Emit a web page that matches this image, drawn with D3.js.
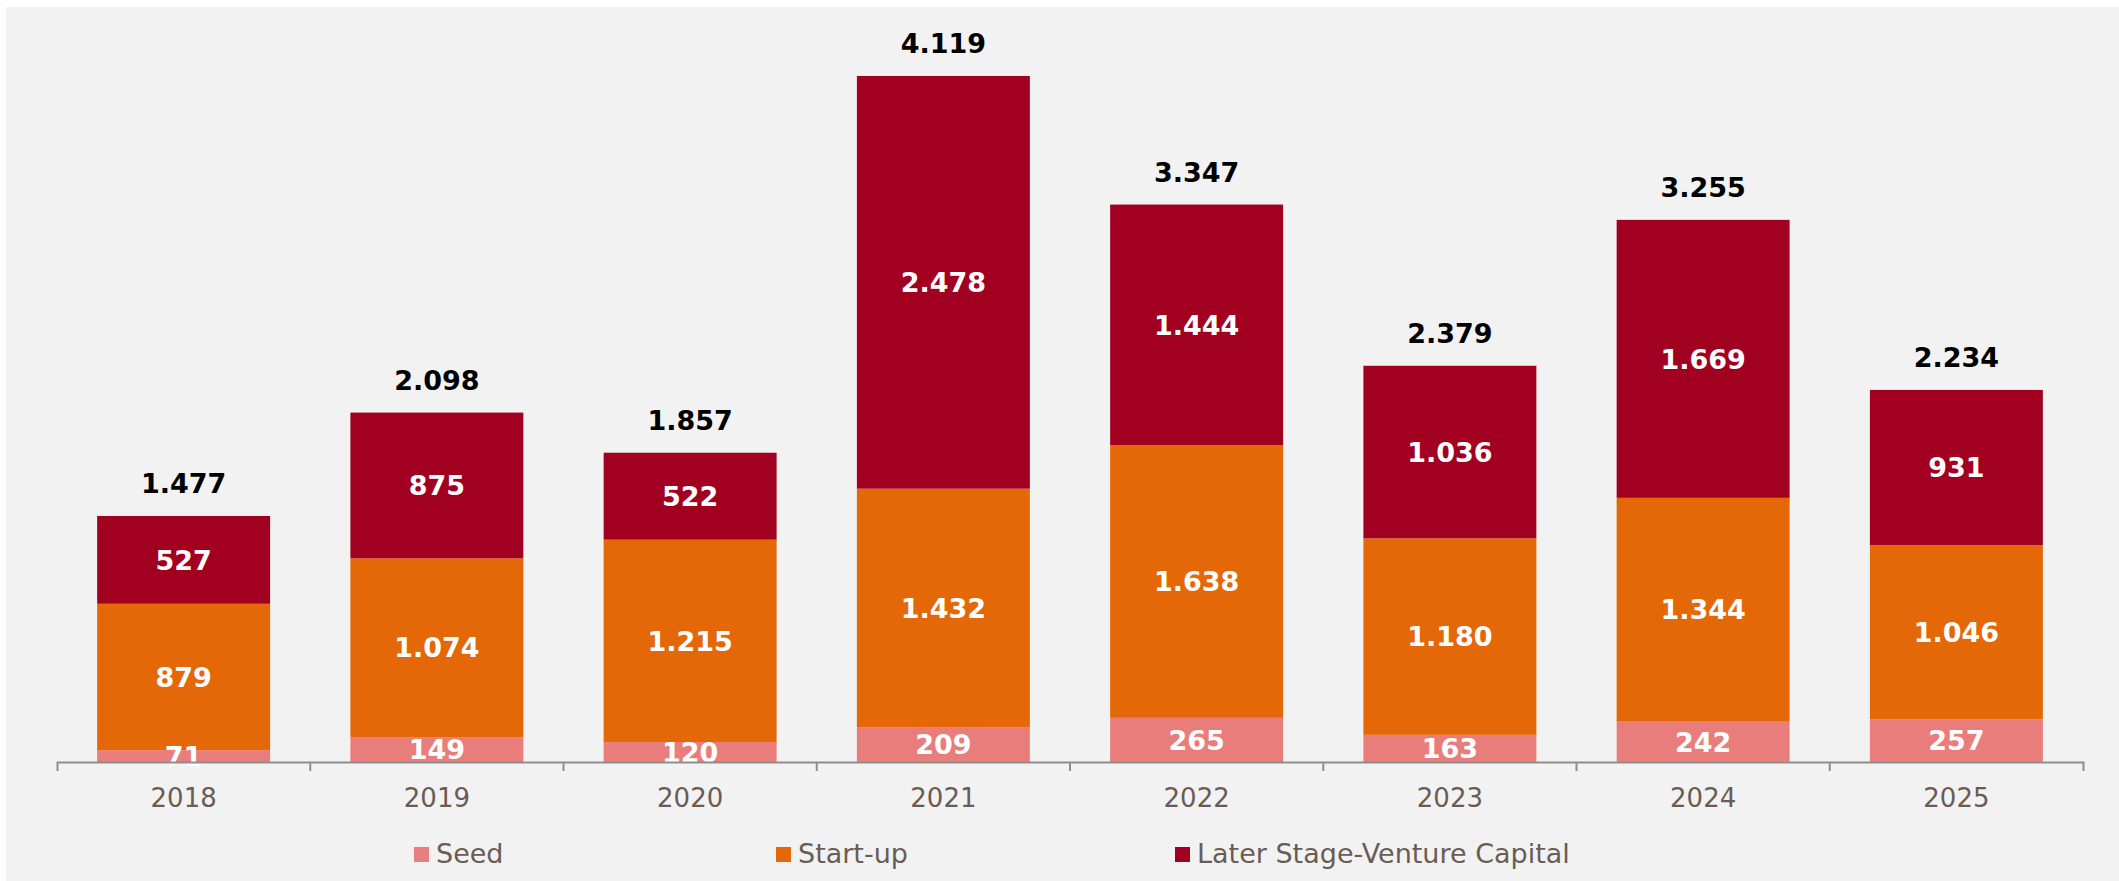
<!DOCTYPE html>
<html>
<head>
<meta charset="utf-8">
<script src="https://cdn.jsdelivr.net/npm/d3@7"></script>
<style>
  html, body { margin: 0; padding: 0; background: #ffffff; }
  svg { display: block; }
</style>
</head>
<body>
<svg id="chart" width="2119" height="881"></svg>
<script>
// Investment volume by stage, per year
const years = ["2018", "2019", "2020", "2021", "2022", "2023", "2024", "2025"];
const seed = [71, 149, 120, 209, 265, 163, 242, 257];
const startUp = [879, 1074, 1215, 1432, 1638, 1180, 1344, 1046];
const laterStage = [527, 875, 522, 2478, 1444, 1036, 1669, 931];
const seriesNames = ["Seed", "Start-up", "Later Stage-Venture Capital"];
const seriesColors = ["#e97d7b", "#e46808", "#a20021"];

const rows = years.map((y, i) => ({
  year: y,
  "Seed": seed[i],
  "Start-up": startUp[i],
  "Later Stage-Venture Capital": laterStage[i]
}));

const fmt = d3.formatLocale({ decimal: ",", thousands: ".", grouping: [3], currency: ["", ""] }).format(",");

const svg = d3.select("#chart");
const W = 2119, H = 881;
const textColor = "#6a5c54";
const font = "'DejaVu Sans', Verdana, sans-serif";

// panel background
svg.append("rect")
  .attr("x", 6).attr("y", 7)
  .attr("width", W - 6).attr("height", H - 7)
  .attr("fill", "#f2f2f2");

const baseY = 762;
const x = d3.scaleBand().domain(years).range([57, 2083]).paddingInner(0.317).paddingOuter(0.1585);
const y = d3.scaleLinear().domain([0, 4500]).range([baseY, baseY - 4500 * 0.16655]);

const stack = d3.stack().keys(seriesNames);
const layers = stack(rows);

const g = svg.append("g");

layers.forEach((layer, li) => {
  const lg = g.append("g").attr("fill", seriesColors[li]);
  lg.selectAll("rect")
    .data(layer)
    .join("rect")
    .attr("x", d => x(d.data.year))
    .attr("width", x.bandwidth())
    .attr("y", d => y(d[1]))
    .attr("height", d => y(d[0]) - y(d[1]));
});

// segment value labels
layers.forEach((layer, li) => {
  g.append("g").selectAll("text")
    .data(layer)
    .join("text")
    .attr("x", d => x(d.data.year) + x.bandwidth() / 2)
    .attr("y", d => (y(d[0]) + y(d[1])) / 2)
    .attr("dy", "0.36em")
    .attr("text-anchor", "middle")
    .attr("font-family", font)
    .attr("font-weight", "bold")
    .attr("font-size", 27)
    .attr("fill", "#ffffff")
    .text(d => fmt(d[1] - d[0]));
});

// totals above bars
const topLayer = layers[layers.length - 1];
g.append("g").selectAll("text")
  .data(topLayer)
  .join("text")
  .attr("x", d => x(d.data.year) + x.bandwidth() / 2)
  .attr("y", d => y(d[1]) - 23)
  .attr("text-anchor", "middle")
  .attr("font-family", font)
  .attr("font-weight", "bold")
  .attr("font-size", 27)
  .attr("fill", "#000000")
  .text(d => fmt(d[1]));

// x axis
const axis = d3.axisBottom(x).tickSizeInner(0).tickSizeOuter(9).tickPadding(0);
const ax = svg.append("g").attr("transform", `translate(0,${baseY})`).call(axis);
ax.select(".domain").attr("stroke", "#8e8e8e").attr("stroke-width", 2);
ax.selectAll(".tick line").remove();
ax.selectAll(".tick text")
  .attr("y", 45).attr("dy", 0)
  .attr("font-family", font)
  .attr("font-size", 26)
  .attr("fill", textColor);

// category boundary ticks
ax.append("g").selectAll("line")
  .data(years.slice(1))
  .join("line")
  .attr("x1", d => x(d) - x.step() * x.paddingInner() / 2)
  .attr("x2", d => x(d) - x.step() * x.paddingInner() / 2)
  .attr("y1", 0).attr("y2", 9)
  .attr("stroke", "#8e8e8e").attr("stroke-width", 2);

// legend
const legendX = [414, 776, 1175];
const legend = svg.append("g");
seriesNames.forEach((name, i) => {
  legend.append("rect")
    .attr("x", legendX[i]).attr("y", 847)
    .attr("width", 15).attr("height", 15)
    .attr("fill", seriesColors[i]);
  legend.append("text")
    .attr("x", legendX[i] + 22).attr("y", 863)
    .attr("font-family", font)
    .attr("font-size", 27)
    .attr("fill", textColor)
    .text(name);
});
</script>
</body>
</html>
